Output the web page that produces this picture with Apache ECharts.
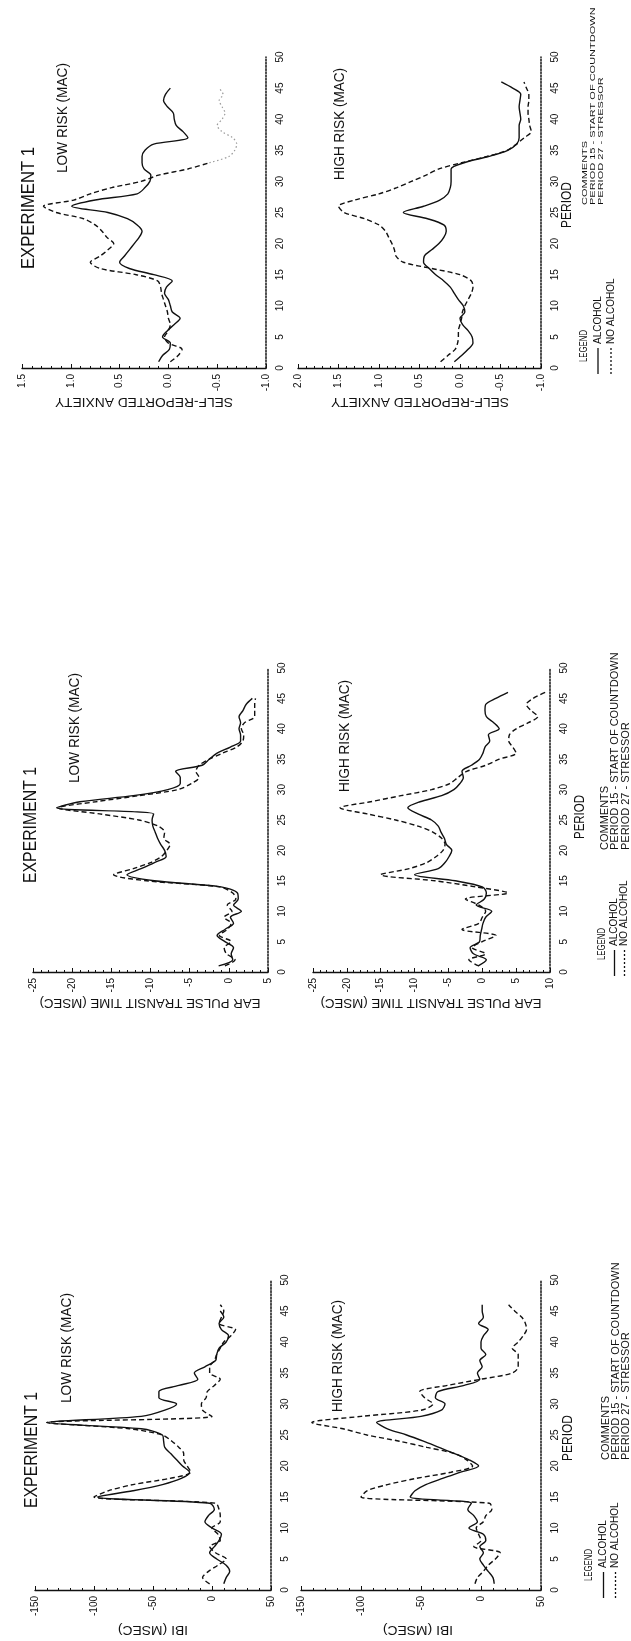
<!DOCTYPE html>
<html><head><meta charset="utf-8">
<script src="https://cdn.jsdelivr.net/npm/echarts@6/dist/echarts.min.js"></script>
<style>html,body{margin:0;padding:0;background:#fff}#c{width:631px;height:1641px}</style>
</head><body><div id="c"></div>
<script>
// ---------- DATA ----------
const PERIODS = [1,2,3,4,5,6,7,8,9,10,11,12,13,14,15,16,17,18,19,20,21,22,23,24,25,26,27,28,29,30,31,32,33,34,35,36,37,38,39,40,41,42,43,44,45,46];

const ANX_LOW_ALC = [0.10,0.06,-0.01,-0.02,0.06,0.01,-0.06,-0.12,-0.04,-0.02,0.00,0.04,0.02,-0.04,0.15,0.40,0.50,0.45,0.40,0.35,0.30,0.27,0.32,0.42,0.62,0.99,0.75,0.32,0.24,0.19,0.18,0.25,0.27,0.27,0.24,0.15,-0.20,-0.15,-0.08,-0.06,-0.05,0.01,0.05,0.03,-0.02];
const ANX_LOW_NOALC = [-0.02,-0.10,-0.14,0.00,0.04,0.00,-0.02,0.00,0.01,0.03,0.05,0.07,0.08,0.11,0.33,0.70,0.80,0.70,0.62,0.56,0.63,0.68,0.75,0.87,1.15,1.28,0.97,0.80,0.58,0.28,0.10,-0.20,-0.42,-0.62,-0.68,-0.70,-0.66,-0.55,-0.50,-0.55,-0.58,-0.55,-0.52,-0.56,-0.52];
const ANX_LOW_NOALC_FAINT_FROM = 33; // period where the scanned dashed line fades to light dots
const ANX_HIGH_ALC = [0.07,-0.02,-0.10,-0.16,-0.15,-0.10,-0.03,0.00,-0.06,-0.04,0.02,0.07,0.12,0.20,0.30,0.38,0.45,0.44,0.35,0.26,0.20,0.17,0.20,0.40,0.70,0.45,0.25,0.15,0.12,0.11,0.11,0.11,-0.05,-0.35,-0.59,-0.70,-0.73,-0.73,-0.73,-0.75,-0.74,-0.73,-0.74,-0.75,-0.65,-0.51];
const ANX_HIGH_NOALC = [0.24,0.15,0.06,0.03,0.02,0.02,0.00,-0.02,-0.03,-0.06,-0.10,-0.14,-0.16,-0.14,0.00,0.35,0.70,0.79,0.81,0.84,0.88,0.92,1.00,1.18,1.43,1.50,1.30,1.00,0.78,0.60,0.42,0.26,-0.02,-0.33,-0.58,-0.70,-0.79,-0.88,-0.86,-0.85,-0.84,-0.84,-0.85,-0.85,-0.82,-0.79];

const EPTT_LOW_ALC = [-1.3,0.5,0.3,0.6,-0.5,-1.5,-0.5,0.6,0.2,1.6,0.6,1.2,1.1,-1.0,-9.5,-13.0,-11.2,-9.5,-8.0,-8.2,-8.7,-9.1,-9.4,-9.7,-9.8,-9.6,-22.0,-19.0,-12.2,-7.8,-6.2,-6.2,-6.8,-3.4,-2.5,-1.5,0.2,1.5,1.5,1.3,1.5,1.3,1.8,2.2,3.0];
const EPTT_LOW_NOALC = [-0.5,0.8,-0.3,-0.6,0.3,-1.2,-0.2,0.3,-0.6,0.4,-0.2,0.9,0.5,-1.2,-10.5,-14.7,-12.2,-10.0,-8.6,-7.9,-7.5,-8.3,-8.2,-9.0,-11.5,-16.5,-21.8,-17.0,-11.5,-6.5,-4.8,-3.8,-4.2,-3.8,-2.5,-0.8,1.0,1.8,1.9,1.6,2.0,3.3,3.3,3.3,3.4];
const EPTT_HIGH_ALC = [-0.6,0.6,-1.3,-1.8,-0.4,-0.3,-0.1,0.1,0.5,1.4,-0.9,0.3,0.6,0.0,-4.0,-10.0,-6.5,-5.5,-4.9,-4.5,-5.3,-5.6,-6.1,-6.5,-7.5,-9.5,-11.0,-9.2,-6.0,-4.2,-3.3,-2.8,-3.0,-1.6,-0.4,0.1,0.4,1.1,0.9,2.5,1.7,0.6,0.4,0.5,2.0,3.8];
const EPTT_HIGH_NOALC = [-0.5,-2.0,0.5,-1.5,0.0,2.0,-3.0,-0.5,0.0,0.5,-0.5,-2.5,3.8,-1.0,-7.0,-15.0,-10.8,-8.2,-6.8,-5.8,-5.5,-6.0,-7.3,-9.5,-12.8,-17.0,-21.0,-16.5,-12.0,-7.5,-4.8,-3.6,-2.3,0.5,2.5,5.0,4.5,3.9,4.0,5.0,6.8,8.2,7.2,6.5,7.5,9.3];

const IBI_LOW_ALC = [10,12,15,12,4,-2,2,6,8,0,-6,-3,2,-2,-97,-67,-42,-26,-19,-25,-30,-35,-40,-41,-42,-60,-140,-60,-40,-30,-45,-45,-28,-12,-15,-6,3,4,6,12,14,8,6,10,7];
const IBI_LOW_NOALC = [-2,-8,-3,5,12,3,-2,7,5,0,7,7,6,3,-100,-88,-67,-36,-18,-21,-24,-24,-28,-34,-42,-70,-140,0,-8,-9,-5,-4,2,7,-2,-2,2,4,7,10,16,20,6,8,10,7];
const IBI_HIGH_ALC = [11,10,6,2,-1,2,-1,4,2,-10,-3,-6,-11,-8,-59,-55,-46,-32,-17,-2,-10,-22,-35,-48,-62,-78,-87,-50,-33,-30,-38,-36,-14,-1,-3,1,-1,4,0,0,2,6,-2,2,1,1];
const IBI_HIGH_NOALC = [-5,-3,2,6,12,16,-6,0,-2,-4,2,4,9,7,-100,-95,-78,-54,-25,-7,-12,-22,-45,-68,-95,-115,-141,-100,-50,-40,-47,-51,-28,0,26,31,31,31,26,31,35,38,37,34,28,23];

const TITLE = 'EXPERIMENT 1';
const PANEL_TITLES = ['LOW RISK (MAC)', 'HIGH RISK (MAC)'];
const AXIS_NAMES = ['SELF-REPORTED ANXIETY', 'EAR PULSE TRANSIT TIME (MSEC)', 'IBI (MSEC)'];
const LEGEND_TEXT = ['LEGEND', 'ALCOHOL', 'NO ALCOHOL'];
const COMMENT_TEXT = ['COMMENTS', 'PERIOD 15 - START OF COUNTDOWN', 'PERIOD 27 - STRESSOR'];

// ---------- LAYOUT ----------
const FONT = '"Liberation Sans", Arial, Helvetica, sans-serif';
const INK = '#111';
const PANELS = [
  {grid:{left:22, top:57, width:244, height:311}, min:-1, max:1.5, interval:0.5, inverse:true, dec:1, alc:ANX_LOW_ALC, no:ANX_LOW_NOALC, faintFrom:ANX_LOW_NOALC_FAINT_FROM},
  {grid:{left:298, top:57, width:243, height:311}, min:-1, max:2, interval:0.5, inverse:true, dec:1, alc:ANX_HIGH_ALC, no:ANX_HIGH_NOALC},
  {grid:{left:33, top:668, width:235, height:304}, min:-25, max:5, interval:5, inverse:false, dec:0, alc:EPTT_LOW_ALC, no:EPTT_LOW_NOALC},
  {grid:{left:313, top:668, width:237, height:304}, min:-25, max:10, interval:5, inverse:false, dec:0, alc:EPTT_HIGH_ALC, no:EPTT_HIGH_NOALC},
  {grid:{left:35, top:1280, width:236, height:310}, min:-150, max:50, interval:50, inverse:false, dec:0, alc:IBI_LOW_ALC, no:IBI_LOW_NOALC},
  {grid:{left:301, top:1280, width:240, height:310}, min:-150, max:50, interval:50, inverse:false, dec:0, alc:IBI_HIGH_ALC, no:IBI_HIGH_NOALC}
];

const grids = [], xAxes = [], yAxes = [], series = [];
function lineSeries(i, pts, name, type, color, width) {
  return {type:'line', name, xAxisIndex:i, yAxisIndex:i, symbol:'none', smooth:0.3,
    lineStyle:{color, width, type}, silent:true, animation:false, data:pts};
}
PANELS.forEach((P, i) => {
  grids.push(Object.assign({containLabel:false}, P.grid));
  xAxes.push({
    type:'value', gridIndex:i, min:P.min, max:P.max, interval:P.interval, inverse:P.inverse, position:'bottom',
    axisLine:{onZero:false, lineStyle:{color:INK, width:1.3}},
    axisTick:{show:true, inside:true, length:4, lineStyle:{color:INK, width:1}},
    minorTick:{show:true, splitNumber:5, length:2, lineStyle:{color:INK, width:1}},
    splitLine:{show:false},
    axisLabel:{rotate:90, margin:6, fontSize:10, color:INK, fontFamily:FONT,
      formatter: v => P.dec ? Number(v).toFixed(P.dec) : String(v)}
  });
  yAxes.push({
    type:'value', gridIndex:i, min:0, max:50, interval:5, position:'right',
    axisLine:{onZero:false, lineStyle:{color:'#222', width:1.6, type:'dotted'}},
    axisTick:{show:false}, splitLine:{show:false},
    axisLabel:{rotate:90, margin:9, fontSize:10, color:INK, fontFamily:FONT}
  });
  const alcPts = P.alc.map((v, k) => [v, PERIODS[k]]);
  const noPts = P.no.map((v, k) => [v, PERIODS[k]]);
  series.push(lineSeries(i, alcPts, 'ALCOHOL', 'solid', INK, 1.4));
  if (P.faintFrom) {
    const cut = PERIODS.indexOf(P.faintFrom);
    series.push(lineSeries(i, noPts.slice(0, cut + 1), 'NO ALCOHOL', [5,3], INK, 1.4));
    series.push(lineSeries(i, noPts.slice(cut), 'NO ALCOHOL', [1.5,2.5], '#9a9a9a', 1.2));
  } else {
    series.push(lineSeries(i, noPts, 'NO ALCOHOL', [5,3], INK, 1.4));
  }
});

// ---------- TEXT (graphic) ----------
const mctx = document.createElement('canvas').getContext('2d');
function tw(t, size){ mctx.font = size + 'px ' + FONT; return mctx.measureText(t).width; }
function vtext(t, x, y, size, len, o) {
  o = o || {};
  const w = tw(t, size);
  const al = o.align || 'center';
  return {type:'text', x:x, y:y, rotation: (o.rot !== undefined ? o.rot : Math.PI/2),
    scaleX: len ? len / w : 1, scaleY: o.sy || 1, silent:true, z:100,
    style:{text:t, font: size + 'px ' + FONT, fill:INK, align:al, verticalAlign:'middle', textAlign:al, textVerticalAlign:'middle'}};
}
function vline(x, y1, y2, dash) {
  return {type:'line', silent:true, z:100, shape:{x1:x, y1:y1, x2:x, y2:y2},
    style:{stroke:INK, lineWidth:1.3, lineDash: dash || null}};
}
const G = [];
const SECTIONS = [
  {exp:[29,208,122], low:[63,118], high:[340,124], per:[567,205,46], names:[[144,402],[420,402]], nameIdx:0, nameLen:178,
   leg:[584,598,611,374,362], com:[585,593,601,205,0.7]},
  {exp:[31,825,116], low:[75,728], high:[345,736], per:[580,817,44], names:[[150,1003],[431,1003]], nameIdx:1, nameLen:221,
   leg:[602.5,614.5,624.5,976,960], com:[604.5,615,626,850,1]},
  {exp:[32,1450,116], low:[67,1348], high:[338,1356], per:[568,1438,46], names:[[153,1630],[418,1630]], nameIdx:2, nameLen:70,
   leg:[589.5,603.5,615.5,1598,1581], com:[606,616,626,1460,1]}
];
SECTIONS.forEach(S => {
  G.push(vtext(TITLE, S.exp[0], S.exp[1], 19, S.exp[2]));
  G.push(vtext(PANEL_TITLES[0], S.low[0], S.low[1], 14, 110));
  G.push(vtext(PANEL_TITLES[1], S.high[0], S.high[1], 14, 112));
  G.push(vtext('PERIOD', S.per[0], S.per[1], 15, S.per[2]));
  S.names.forEach(n => G.push(vtext(AXIS_NAMES[S.nameIdx], n[0], n[1], 13.5, S.nameLen, {rot:Math.PI})));
  const [cl, ca, cn, lb, tb] = S.leg;
  G.push(vtext(LEGEND_TEXT[0], cl, tb, 10, 32, {align:'left'}));
  G.push(vline(ca, lb, lb - 26));
  G.push(vline(cn, lb, lb - 26, [2,2]));
  G.push(vtext(LEGEND_TEXT[1], ca, lb - 30, 10, null, {align:'left'}));
  G.push(vtext(LEGEND_TEXT[2], cn, lb - 30, 10, null, {align:'left'}));
  const [c1, c2, c3, cb, sy] = S.com;
  G.push(vtext(COMMENT_TEXT[0], c1, cb, 11, null, {align:'left', sy:sy}));
  G.push(vtext(COMMENT_TEXT[1], c2, cb, 11, null, {align:'left', sy:sy}));
  G.push(vtext(COMMENT_TEXT[2], c3, cb, 11, null, {align:'left', sy:sy}));
});

const chart = echarts.init(document.getElementById('c'), null, {renderer:'canvas', width:631, height:1641});
chart.setOption({
  backgroundColor:'#ffffff', animation:false,
  textStyle:{fontFamily:FONT},
  grid:grids, xAxis:xAxes, yAxis:yAxes, series:series,
  graphic:{elements:G}
});
</script></body></html>
